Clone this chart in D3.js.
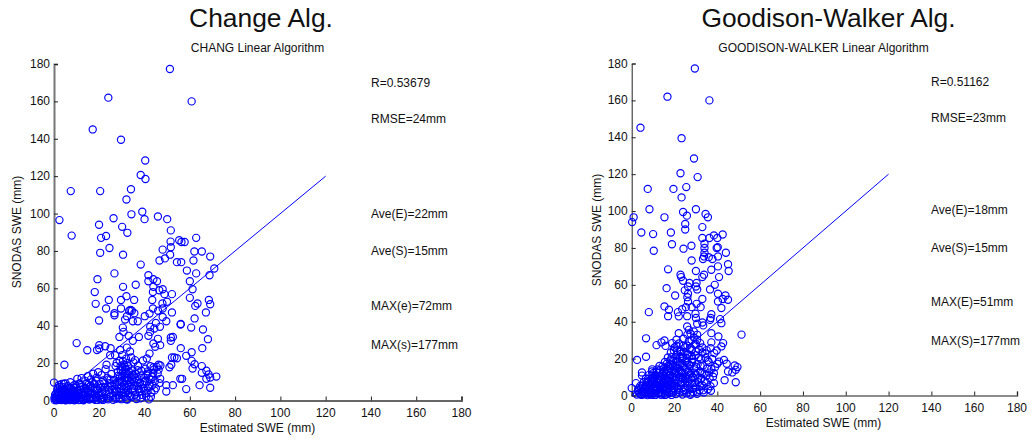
<!DOCTYPE html>
<html><head><meta charset="utf-8">
<script src="https://cdnjs.cloudflare.com/ajax/libs/d3/7.8.5/d3.min.js"></script>
<style>html,body{margin:0;background:#fff}svg{display:block}text{font-family:"Liberation Sans",Arial,sans-serif;fill:#111}</style>
</head><body><svg id="c" width="1028" height="439"></svg>
<script>
const axisTicks=[0,20,40,60,80,100,120,140,160,180];
const fitLine=[0,120];
const changTitle="Change Alg.", changSubtitle="CHANG Linear Algorithm";
const walkerTitle="Goodison-Walker Alg.", walkerSubtitle="GOODISON-WALKER Linear Algorithm";
const xLabel="Estimated SWE (mm)", yLabel="SNODAS SWE (mm)";
const changStats=["R=0.53679","RMSE=24mm","Ave(E)=22mm","Ave(S)=15mm","MAX(e)=72mm","MAX(s)=177mm"];
const walkerStats=["R=0.51162","RMSE=23mm","Ave(E)=18mm","Ave(S)=15mm","MAX(E)=51mm","MAX(S)=177mm"];
const changPoints=[[51.2,177.3],[24,162],[60.8,160],[17.1,145],[29.6,139.5],[40.3,128.4],[38.3,120.6],[40.4,118.5],[7.4,112],[20.4,112],[34,113],[32,107.5],[39,101],[34.2,99.6],[45.9,98.4],[50,97],[2.4,96.5],[26.3,97.5],[40,97],
[19.9,94],[30.1,92.9],[32.4,89.7],[23,88],[20.8,87],[7.8,88.2],[51.6,91],[51.5,85],[55.3,85.7],[56.3,84.8],[57.7,84.8],[62.8,87],[24.5,81.6],[20.4,79],[30.5,78],[51.6,82],[48,80.7],[62,79.7],[65.3,79.7],[69,77],[51.3,78],[49,76],[46.6,74.9],[61.6,74.9],[54.3,74],[56.2,74],[38.3,72.7],[70.8,70.6],[58.7,69.5],[62.8,68],[26.7,68],[41.7,67],[68.7,67],[19.2,64.9],[43.9,64.9],[45.5,63.8],[60,63.8],[41.7,63.8],[36.1,61.9],[30.5,60.8],[43.9,60.8],[48,59.5],[61.2,59.5],[43.7,58],[46.5,59],[18,58],[48.8,56.9],[52.1,56.9],[32,55.8],[60,54.9],[24.2,53.8],[35.4,53.8],[29.6,53.8],[43.4,53.8],[68.4,53.8],[69,51.5],[49.9,52.8],[47.9,51.9],[63.4,51.9],[62.4,50.6],[18.4,51.7],[23,49.2],[29.6,49.2],[43.7,49.2],[48,49.2],[46,48],[33.2,48],[34.4,48],[33.8,48.4],[52.1,47.1],[67.1,47.1],[26.7,46.7],[26.7,45.6],[35.5,46.7],[42.2,46.5],[40.1,45.1],[32.2,45.1],[48,44.7],[62.1,43.9],[19.9,42.8],[31.4,43.3],[34.8,42.4],[37,42.4],[49.6,42.4],[45,41.5],[55.9,40.6],[56,40.9],[46.8,39.4],[42.5,39.4],[60.6,39],[65.8,38],[44.3,38.5],[42.5,36.7],[30.4,39],[30.7,36.7],[41.7,34.6],[37.5,34],[33,34.6],[28.9,34],[52.5,34],[51.6,33.7],[45.9,33],[68,32.8],[51.6,31.9],[34.8,31.9],[10,30.7],[20,29.6],[43.9,30.5],[46.9,29.6],[22.6,29],[19,27],[14.7,26.9],[20,27.8],[44.7,28.7],[32.2,28.3],[56,28],[65.5,28],[25,28],[29.2,27],[60.8,25.8],[42.2,25.1],[24.8,24.2],[58.4,23.9],[52.1,23],[53.2,23],[54.3,22.6],[41,22.5],[27,24.2],[35.8,21.6],[60.8,21.2],[62.1,19.4],[27.7,20.1],[4.6,19.1],[23.2,19.1],[51.8,19.1],[51,17.8],[46.2,19.1],[65.3,18.4],[61.2,17.1],[44,17.8],[67.3,15.9],[65.3,14.8],[68.3,13.9],[69,12.3],[71.7,12.8],[67.3,11.6],[55.8,11.6],[56.6,11.6],[46.9,11.6],[49.6,8.2],[52.5,8.2],[64.3,8.2],[69,6.8],[58.4,6.1],[49.6,4.8],[0,9.6],
[0.3,0.2],[0.6,1.1],[0.9,2.4],[1.2,0.4],[1.1,4.1],[1.5,5.8],[1.8,1.6],[2.1,3.2],[2.4,0.3],[2.6,7.2],[2.9,2.1],[3.2,4.6],[3.4,8.9],[3.7,0.7],[4,1.9],[4.2,6.1],[4.6,3.3],[4.9,0.2],[5.1,9.2],[5.4,5],[5.7,1.2],[6,7.6],[6.3,2.6],[6.6,0.5],[6.9,4.2],[7.2,9.8],[7.5,6.4],[7.8,1.7],[8.1,3.6],[8.4,0.3],[8.7,8.1],[9,5.3],[9.3,2.2],[9.7,0.9],[10,6.9],[10.3,11.6],[10.6,3.9],[10.9,1.3],[11.2,9.1],[11.5,5.7],[11.8,0.4],[12.2,12],[12.5,2.8],[12.8,7.5],[13.1,4.7],[13.5,0.8],[13.8,10.4],[14.2,6.2],[14.5,2],[14.9,13],[15.2,8.4],[15.6,0.5],[15.9,4],[16.3,11.3],[16.6,6.8],[17,1.5],[17.3,14.3],[17.7,9],[18,3.2],[18.4,0.3],[18.8,12.2],[19.1,6],[19.5,15.1],[19.9,2.4],[20.2,8.9],[20.6,0.9],[21,13.6],[21.3,4.7],[21.7,10.7],[22.1,1.4],[22.4,7],[22.8,16.7],[23.2,3.3],[23.5,12.1],[23.9,0.6],[24.3,5.6],[24.6,9.3],[25,2.1],[25.4,14.2],[25.7,7.9],[26.1,0.4],[26.5,11],[26.9,4.3],[27.2,18.4],[27.6,1.6],[28,8.4],[28.3,13.2],[28.7,3],[29,21.3],[29.2,6.1],[29.5,16.2],[29.8,0.7],[30,10.2],[30.2,24.3],[30.4,14.7],[30.6,4.5],[30.8,19.2],[31,8.3],[31.2,2],[31.4,12.3],[31.6,16.9],[31.8,22.4],[32,6.7],[32.2,10.6],[32.4,0.5],[32.6,14.1],[32.8,18.3],[33,4],[33.3,8.2],[33.6,26.2],[33.9,12.7],[34.2,1.9],[34.5,16.1],[34.8,6.2],[35.1,20.4],[35.4,10],[35.8,3.1],[36.1,14.2],[36.4,0.8],[36.8,7.6],[37.1,18.6],[37.5,11.3],[37.8,4.8],[38.2,1.2],[38.6,15.9],[39,8.6],[39.3,21.4],[39.7,12.1],[40,5.1],[40.3,17],[40.7,2.2],[41,9.7],[41.3,14.3],[41.6,6.8],[41.9,0.6],[42.2,11.4],[42.6,18.3],[43,4.3],[43.4,8.1],[43.8,14.7],[44.2,16.6],[44.6,10.4],[45,6.6],[45.4,18],[45.8,14.4],[46.2,16.5],[46.6,9.3],[47,18.7],[2.2,8.3],[4.4,9],[6.1,5.4],[8.9,6.8],[1.7,6.6],[3.8,5.4],[5.3,3],[7.4,4.4],[9.4,8.4],[12.1,5.6],[15,3],[16.9,9.8],[18.7,5.2],[21.5,7.3],[24.1,11.3],[26.7,6.3],[28.9,10.6],[31.1,14.2],[33.1,11.1],[35.2,13.4],[36.9,9.4],[38.4,6.3],[40.8,13.5],[43,11.2],
[0.2,1.4],[0.5,3.1],[0.8,0.6],[1.4,2.7],[1.9,4.8],[2.3,1.2],[2.7,5.3],[3,0.9],[3.5,3.4],[3.9,7.1],[4.3,1.1],[4.7,4.5],[5,2.4],[5.5,0.7],[5.9,3.8],[6.4,6.7],[6.8,1.9],[7.1,3.1],[7.6,0.6],[8,5.6],[8.3,2.4],[8.8,4.4],[9.2,0.5],[9.6,3.3],[10.1,1.8],[10.5,5.2],[11,2.7],[11.4,7.3],[11.9,1.5],[12.3,4.1],[12.9,0.4],[13.3,6.4],[13.7,2.5],[14.3,8.8],[14.7,0.9],[15.3,5.4],[15.8,1.7],[16.2,7.7],[16.8,3.6],[17.4,0.8],[17.9,5.8],[18.5,10.6],[19,1.6],[19.6,4.1],[20.3,6.7],[20.9,2.9],[21.6,0.3],[22.2,9.2],[22.7,4.9],[23.3,1.1],[23.8,7.4],[24.4,3.3],[25,11.2],[25.6,5.8],[26.2,2.6],[26.8,8.8],[27.3,0.9],[27.8,5],[28.2,15.3],[28.5,10],[28.8,1.1],[29.1,12.8],[29.4,18.4],[29.6,4.1],[29.9,7.7],[30.1,13],[30.3,16.6],[30.5,21.2],[30.7,2.6],[30.9,6.2],[31.1,10.6],[31.3,18.1],[31.5,4],[31.7,14.9],[31.9,0.7],[32.1,8.9],[32.3,20],[32.5,12.1],[32.7,5.3],[33.1,15.4],[33.5,2.4],[33.8,9.7],[34.1,23],[34.6,13.8],[35,4.9],[35.5,7.9],[36,11.9],[36.5,2.2],[36.9,16.2],[37.4,6],[37.9,9.2],[38.5,13.4],[38.9,3],[39.6,6.6],[40.2,10.4],[40.9,4],[41.5,15.6],[42.1,8.6],[42.8,2],[43.6,12.7],[44.4,5.4],[1,0.1],[3.3,0.2],[5.2,0.1],[7,0.2],[9,0.1],[11,0.2],[13,0.1],[14,3.8],[16,1],[19.3,0.3],[21.2,0.6]];
const walkerPoints=[[29.5,177.3],[16.7,162],[36.3,160],[4.1,145.2],[23.3,139.5],[29.1,128.5],[22.8,120.5],[30.8,118.4],[7.5,112],[19.5,112],[25.5,113],[23.3,107.4],[8.3,101],[30,101],[24,99.5],[34.5,98.4],[25.8,97.5],[0.9,96.6],[15.3,96.6],[35.6,96.6],
[0.2,94],[25,93],[25,90],[33,91.3],[4.5,88.4],[10,87.5],[18.3,88.4],[42.5,87.3],[38.4,86.8],[36.3,85.4],[40,85.4],[33,85.4],[18.8,82],[27.9,81.2],[24.2,79.6],[34,82.3],[34,80],[39.7,80],[40.2,80.4],[10.3,78.5],[44,77.4],[34,77.4],[33.8,75.4],[36,75],[40.3,75.4],[33.3,74],[37.7,74],[28,73.2],[45,71.2],[40.3,70],[45.3,67.5],[37.2,68.2],[17,68.4],[30,67.5],[33.8,65.5],[33,64.2],[22.8,65.5],[23.1,64.2],[40.8,64.2],[24,62.2],[27,61],[30.3,61],[38.8,60],[30,59.1],[26.3,59.1],[16.3,58.2],[36.6,57.5],[30.6,57.5],[24.8,57],[40.3,55.2],[20.3,54.2],[26.3,55.2],[43.8,54.2],[26,53.3],[33,52.3],[42.5,52.3],[45,51.9],[40.3,51],[26.3,51],[30.3,49.7],[15.3,48.3],[25.3,47.9],[28,47.9],[41.9,47.4],[17.4,46.5],[23.6,46.8],[32.2,47.9],[8,45.2],[21.6,45.2],[29.8,44.3],[37.2,44.1],[17,43],[22,42.9],[25.9,43],[36.9,42],[30,42],[41.3,41.4],[36.6,41],[41.9,39.2],[33,39.6],[25.9,37.4],[30.6,38.9],[33.4,38],[26.7,35.6],[22,33.8],[37.2,33.8],[29,34.7],[51.3,33],[40.5,32],[6.7,31],[30.6,32.9],[27.5,33.5],[20.9,30.2],[30.6,30.2],[15.3,29.8],[13.9,28.8],[37.2,28.8],[42.7,28.4],[11.6,27.3],[15.8,26.9],[18.9,28.4],[41.9,26.6],[36.9,25.7],[39.7,24.4],[19.7,24.4],[25.9,22],[33,23.3],[6.7,21],[2.5,19.3],[34.5,20.4],[43.1,19.3],[40.8,18.4],[40,17.2],[44.4,17.2],[48.1,16.3],[49.4,15.4],[48.6,13.9],[45,13],[47,12.5],[38.4,12.1],[4.8,12.5],[4.8,10.8],[9.5,13],[43.4,8.3],[48.6,7.2],[38.4,6.7],[0,4],[2,6.7],[3.3,4],
[2.4,0.5],[3.1,2.2],[3.6,1],[4.2,3.6],[4.6,0.3],[5,5.4],[5.3,1.8],[5.7,7.3],[6,0.6],[6.2,3.4],[6.6,9.2],[6.9,1.2],[7.2,5],[7.4,0.2],[7.7,2.8],[8,7.6],[8.2,11.2],[8.4,0.8],[8.7,4.3],[9,1.9],[9.2,9],[9.5,6],[9.7,0.4],[10,3.1],[10.2,12.2],[10.4,7.8],[10.6,1.4],[10.9,5.2],[11.1,0.3],[11.3,10.3],[11.6,2.6],[11.8,14.1],[12,6.9],[12.3,0.9],[12.5,4.1],[12.7,8.8],[13,12.4],[13.2,1.7],[13.4,5.9],[13.7,0.4],[13.9,10.4],[14.1,3.2],[14.4,15.8],[14.6,7.4],[14.8,1],[15.1,12.6],[15.3,5],[15.5,18.2],[15.8,2.4],[16,9],[16.2,0.6],[16.5,14.4],[16.7,6.6],[16.9,20.6],[17.2,3.8],[17.4,11.2],[17.6,1.2],[17.9,16.6],[18.1,8],[18.3,23.3],[18.6,0.3],[18.8,5.2],[19,13.4],[19.3,19],[19.5,2.6],[19.7,9.8],[20,26],[20.2,6.4],[20.4,15.2],[20.7,0.8],[20.9,22],[21.1,11.6],[21.4,3.8],[21.6,18],[21.8,7.8],[22.1,28.2],[22.3,1.6],[22.5,13.6],[22.8,24],[23,5.4],[23.2,9.6],[23.5,20],[23.7,0.5],[23.9,16],[24.2,30.8],[24.4,3],[24.6,11.8],[24.9,7],[25.1,26.2],[25.3,18.4],[25.6,1.2],[25.8,14],[26,5.2],[26.3,22.4],[26.5,9],[26.7,29.4],[27,3.2],[27.2,16],[27.4,0.4],[27.7,12],[27.9,24.6],[28.2,6.6],[28.4,19.8],[28.7,1.9],[28.9,9.6],[29.2,14.8],[29.4,27.6],[29.7,4.4],[29.9,21.8],[30.2,11.2],[30.5,0.9],[30.8,17],[31.1,7.2],[31.4,25],[31.7,3],[32,13],[32.3,19.8],[32.6,9.2],[33,5.4],[33.3,16.2],[33.7,1.6],[34,11.8],[34.4,22.8],[34.8,7],[35.2,14.6],[35.6,3.4],[36,18.2],[36.4,9.4],[36.8,5],[37.2,14.4],[37.6,19.8],[38,10.2],[38.6,23],[39,15.4],[35,24.6],[32,28.4],[29,31.5],[26,33],[24,27],[21,27],[18,19],[15,13],[13,16],[11,11],[9.6,14.2],[12,9.2],[14,6],[16.4,3.2],[18.2,11],[20.6,13],[22.4,16.4],[24,21],[26,17.8],[28,21.4],[30,23.8],[17,8],[14.8,10.6],[19,7.2],[21,5],[23,13],[25,9.4],[27,11.3],[6.4,5.2],[7.6,8.9],[4,5.2],[10,9.8],[12.6,1.2],[15.5,0.3],
[4.9,2.1],[5.9,4.4],[6.5,1.4],[7,7],[7.9,4],[8.5,6.2],[8.9,2.8],[9.3,10.8],[9.8,7.4],[10.3,4.6],[10.7,9.2],[11.2,6.4],[11.5,12.6],[11.9,3.8],[12.2,8],[12.6,10.6],[12.9,5.2],[13.3,13.8],[13.6,8.2],[13.9,1.2],[14.2,11.4],[14.5,4.6],[14.9,7.8],[15.2,15],[15.6,9.6],[15.9,6.2],[16.1,11.8],[16.4,17.2],[16.8,1.9],[17.1,13.4],[17.5,9.4],[17.8,5.6],[18,14.6],[18.4,2.8],[18.7,20.8],[19.1,10.4],[19.4,16.4],[19.8,4],[20.1,12.2],[20.5,8.4],[20.8,18.6],[21.2,24.4],[21.5,15],[21.9,3],[22.2,10],[22.6,20.6],[22.9,7.2],[23.3,17.6],[23.6,12],[24,2.2],[24.3,23.6],[24.7,15.4],[25,4.4],[25.4,10.4],[25.7,20.2],[26.1,7.4],[26.4,12.8],[26.8,16.8],[27.1,6],[27.5,25.8],[27.8,1],[28.1,18.2],[28.5,10],[28.8,3.6],[29.3,12.4],[29.6,6.8],[30,15.6],[30.4,2],[30.9,9.2],[31.3,20.6],[31.8,5],[32.2,16],[32.8,12],[33.4,2.8],[34,7.8],[34.9,10.8],[35.5,19],[36.2,12.4],[37,2.6],[16,4.8],[17,16],[18.4,6.4],[19.2,1.6],[20,14],[21,20],[22,12],[23,22.6],[24,9],[26,27],[28,30],[30,28],[33,26],[3,3],[4.4,0.8],[5.6,2.4],[6.8,3.6],[8,1.2],[9,0.5]];
const svg=d3.select("#c");
function panel(cfg){
  const g=svg.append("g");
  const x=d3.scaleLinear().domain([0,180]).range(cfg.xr);
  const y=d3.scaleLinear().domain([0,180]).range(cfg.yr);
  const ax=g.append("g").attr("transform",`translate(0,${cfg.yr[0]})`).call(d3.axisTop(x).tickValues(axisTicks).tickSize(4).tickFormat(()=>""));
  ax.select(".domain").attr("stroke","#666").attr("stroke-width",cfg.xw);
  ax.selectAll("line").attr("stroke","#222");
  const ay=g.append("g").attr("transform",`translate(${cfg.xr[0]},0)`).call(d3.axisRight(y).tickValues(axisTicks).tickSize(4).tickFormat(()=>""));
  ay.select(".domain").attr("stroke",cfg.ac).attr("stroke-width",cfg.yw);
  ay.selectAll("line").attr("stroke","#222");
  g.append("g").selectAll("text").data(axisTicks).join("text").attr("x",d=>x(d)).attr("y",cfg.yr[0]+16).attr("text-anchor","middle").attr("font-size",12).text(d=>d);
  g.append("g").selectAll("text").data(axisTicks).join("text").attr("x",cfg.xr[0]-4).attr("y",d=>y(d)+4).attr("text-anchor","end").attr("font-size",12).text(d=>d);
  g.append("line").attr("x1",x(fitLine[0])).attr("y1",y(fitLine[0])).attr("x2",x(fitLine[1])).attr("y2",y(fitLine[1])).attr("stroke","#0000ff").attr("stroke-width",1);
  g.append("g").selectAll("circle").data(cfg.pts).join("circle").attr("cx",d=>x(d[0])).attr("cy",d=>y(d[1])).attr("r",3.6).attr("fill","none").attr("stroke","#0000ff").attr("stroke-width",1.15);
  g.append("text").attr("x",cfg.tx).attr("y",27).attr("text-anchor","middle").attr("font-size",26.4).text(cfg.title);
  g.append("text").attr("x",cfg.sx).attr("y",52).attr("text-anchor","middle").attr("font-size",12).text(cfg.sub);
  g.append("text").attr("x",cfg.sx).attr("y",cfg.lby).attr("text-anchor","middle").attr("font-size",12).text(xLabel);
  g.append("text").attr("transform",`translate(${cfg.lx},${cfg.lcy}) rotate(-90)`).attr("text-anchor","middle").attr("font-size",12).text(yLabel);
  g.append("g").selectAll("text").data(cfg.stats).join("text").attr("x",cfg.stx).attr("y",(d,i)=>cfg.sty[i]).attr("font-size",12).text(d=>d);
}
panel({pts:changPoints,xr:[54,461.5],yr:[400.5,64],xw:2,yw:2,ac:"#777",tx:261,sx:257.5,title:changTitle,sub:changSubtitle,lby:432,lx:21,lcy:232,stats:changStats,stx:371,sty:[87,123,218,255,310,349]});
panel({pts:walkerPoints,xr:[631.7,1017],yr:[395.5,63.5],xw:1.5,yw:1,ac:"#222",tx:828.5,sx:823.5,title:walkerTitle,sub:walkerSubtitle,lby:427,lx:601,lcy:230,stats:walkerStats,stx:931,sty:[86,122,214,252,306,345]});
</script></body></html>
